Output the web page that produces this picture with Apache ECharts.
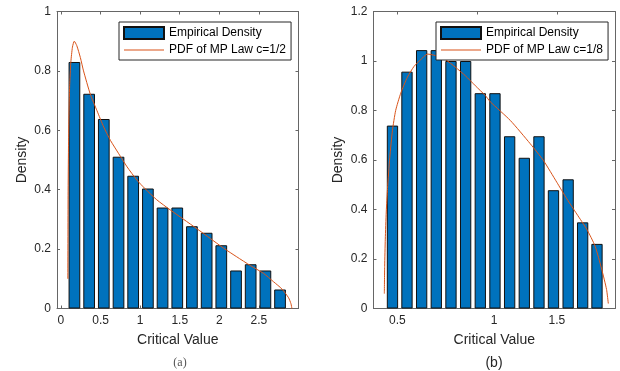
<!DOCTYPE html>
<html>
<head>
<meta charset="utf-8">
<script src="https://cdn.jsdelivr.net/npm/echarts@6.0.0/dist/echarts.min.js"></script>
<style>
  html, body { margin: 0; padding: 0; background: #fff; }
  #chart { width: 620px; height: 371px; }
</style>
</head>
<body>
<div id="chart"></div>
<script>
// (a) Histogram of critical values, c = 1/2
const binCentersA = [0.170, 0.356, 0.541, 0.727, 0.912, 1.098, 1.283, 1.469, 1.654, 1.840, 2.025, 2.211, 2.396, 2.582, 2.767];
const densityA    = [0.830, 0.723, 0.638, 0.511, 0.447, 0.404, 0.340, 0.340, 0.277, 0.255, 0.213, 0.128, 0.149, 0.128, 0.064];
// MP law curve, c = 1/2
const pdfAx = [0.087, 0.090, 0.095, 0.100, 0.110, 0.125, 0.145, 0.168, 0.200, 0.245, 0.285, 0.370, 0.455, 0.540, 0.625, 0.730, 0.835, 0.960, 1.060, 1.210, 1.380, 1.550, 1.720, 1.885, 2.055, 2.220, 2.390, 2.560, 2.685, 2.790, 2.875, 2.905, 2.917];
const pdfAy = [0.10, 0.38, 0.54, 0.64, 0.75, 0.83, 0.88, 0.90, 0.885, 0.845, 0.80, 0.722, 0.666, 0.611, 0.566, 0.521, 0.477, 0.432, 0.404, 0.366, 0.332, 0.300, 0.268, 0.236, 0.203, 0.174, 0.145, 0.118, 0.090, 0.066, 0.036, 0.016, 0.0];

// (b) Histogram of critical values, c = 1/8
const binCentersB = [0.469, 0.560, 0.652, 0.744, 0.836, 0.928, 1.020, 1.112, 1.204, 1.296, 1.388, 1.479, 1.571, 1.662, 1.752];
const densityB    = [0.739, 0.957, 1.044, 1.044, 1.000, 1.000, 0.870, 0.870, 0.696, 0.609, 0.696, 0.478, 0.522, 0.348, 0.261];
// MP law curve, c = 1/8
const pdfBx = [0.418, 0.420, 0.424, 0.430, 0.438, 0.452, 0.469, 0.489, 0.521, 0.563, 0.604, 0.646, 0.688, 0.739, 0.802, 0.864, 0.927, 0.989, 1.052, 1.083, 1.208, 1.333, 1.416, 1.500, 1.563, 1.625, 1.688, 1.740, 1.781, 1.812, 1.823];
const pdfBy = [0.06, 0.17, 0.28, 0.39, 0.485, 0.61, 0.72, 0.80, 0.87, 0.935, 0.978, 1.005, 1.028, 1.022, 1.005, 0.975, 0.94, 0.90, 0.86, 0.835, 0.76, 0.666, 0.598, 0.51, 0.443, 0.382, 0.32, 0.252, 0.16, 0.077, 0.02];

// Tick labels
const xTicksA = [0, 0.5, 1, 1.5, 2, 2.5];
const xTicksB = [0.5, 1, 1.5];

const FONT = "'Liberation Sans', Arial, Helvetica, sans-serif";
const AXIS = '#666666';
const TEXT = '#262626';
const BLUE = '#0072BD';
const ORANGE = '#D95319';

const zip = (xs, ys) => xs.map((x, i) => [x, ys[i]]);

function xAxisPair(grid, min, max, ticks, labelFmt) {
  const line = { show: true, onZero: false, lineStyle: { color: AXIS, width: 1 } };
  return [
    {
      gridIndex: grid, type: 'value', position: 'bottom', min, max,
      axisLine: line,
      axisTick: { show: true, inside: true, length: 3, customValues: ticks, lineStyle: { color: AXIS } },
      axisLabel: {
        customValues: ticks, margin: 6, fontSize: 12, fontFamily: FONT, color: TEXT,
        formatter: labelFmt,
        rich: { shift: { padding: [0, 0, 0, 34], fontSize: 12, fontFamily: FONT, color: TEXT } }
      },
      splitLine: { show: false },
      name: 'Critical Value', nameLocation: 'middle', nameGap: 25,
      nameTextStyle: { fontSize: 14, fontFamily: FONT, color: TEXT }
    },
    {
      gridIndex: grid, type: 'value', position: 'top', min, max,
      axisLine: line,
      axisTick: { show: true, inside: true, length: 3, customValues: ticks, lineStyle: { color: AXIS } },
      axisLabel: { show: false },
      splitLine: { show: false }
    }
  ];
}

function yAxisPair(grid, max) {
  const line = { show: true, onZero: false, lineStyle: { color: AXIS, width: 1 } };
  return [
    {
      gridIndex: grid, type: 'value', position: 'left', min: 0, max, interval: 0.2,
      axisLine: line,
      axisTick: { show: true, inside: true, length: 3, lineStyle: { color: AXIS } },
      axisLabel: { margin: 6, fontSize: 12, fontFamily: FONT, color: TEXT },
      splitLine: { show: false },
      name: 'Density', nameLocation: 'middle', nameGap: 28,
      nameTextStyle: { fontSize: 14, fontFamily: FONT, color: TEXT }
    },
    {
      gridIndex: grid, type: 'value', position: 'right', min: 0, max, interval: 0.2,
      axisLine: line,
      axisTick: { show: true, inside: true, length: 3, lineStyle: { color: AXIS } },
      axisLabel: { show: false },
      splitLine: { show: false }
    }
  ];
}

// plain horizontal stroke for the curve entry of the legend
const LINE_ICON = 'path://M0,0H40V1H0Z';

function legendAt(left, curveName) {
  return {
    orient: 'vertical', left, top: 22,
    data: [{ name: 'Empirical Density', icon: 'rect' }, { name: curveName, icon: LINE_ICON }],
    padding: [4, 5, 4, 4], itemGap: 4, itemWidth: 40, itemHeight: 12,
    symbolKeepAspect: true,
    borderColor: '#262626', borderWidth: 1, borderRadius: 0, backgroundColor: '#ffffff',
    textStyle: { fontSize: 12, fontFamily: FONT, color: '#000' },
    selectedMode: false
  };
}

const barStyle = { color: BLUE, borderColor: '#111111', borderWidth: 1 };

const chart = echarts.init(document.getElementById('chart'), null, { renderer: 'canvas' });
chart.setOption({
  animation: false,
  backgroundColor: '#ffffff',
  grid: [
    { left: 57, top: 11.5, width: 241.5, height: 297 },
    { left: 373.5, top: 11.5, width: 241.5, height: 297 }
  ],
  xAxis: [
    ...xAxisPair(0, -0.05, 3, xTicksA, v => String(v)),
    // the "1" label of panel (b) sits a little to the right of its tick
    ...xAxisPair(1, 0.35, 1.865, xTicksB, v => (v === 1 ? '{shift|1}' : String(v)))
  ],
  yAxis: [
    ...yAxisPair(0, 1),
    ...yAxisPair(1, 1.2)
  ],
  legend: [
    legendAt(119, 'PDF of MP Law c=1/2'),
    legendAt(436, 'PDF of MP Law c=1/8')
  ],
  series: [
    {
      name: 'Empirical Density', type: 'bar', xAxisIndex: 0, yAxisIndex: 0,
      data: zip(binCentersA, densityA), barWidth: 11.7, itemStyle: barStyle
    },
    {
      name: 'PDF of MP Law c=1/2', type: 'line', xAxisIndex: 0, yAxisIndex: 0,
      data: zip(pdfAx, pdfAy), symbol: 'none', smooth: 0.2,
      lineStyle: { color: ORANGE, width: 1 }, itemStyle: { color: ORANGE }
    },
    {
      name: 'Empirical Density', type: 'bar', xAxisIndex: 2, yAxisIndex: 2,
      data: zip(binCentersB, densityB), barWidth: 11.3, itemStyle: barStyle
    },
    {
      name: 'PDF of MP Law c=1/8', type: 'line', xAxisIndex: 2, yAxisIndex: 2,
      data: zip(pdfBx, pdfBy), symbol: 'none', smooth: 0.2,
      lineStyle: { color: ORANGE, width: 1 }, itemStyle: { color: ORANGE }
    }
  ],
  graphic: [
    { type: 'text', x: 180, y: 363,
      style: { text: '(a)', align: 'center', verticalAlign: 'middle', fontSize: 12,
               fontFamily: "'Liberation Serif', 'Times New Roman', serif", fill: '#555555' } },
    { type: 'text', x: 494, y: 363.5,
      style: { text: '(b)', align: 'center', verticalAlign: 'middle', fontSize: 14,
               fontFamily: FONT, fill: TEXT } }
  ]
});
</script>
</body>
</html>
